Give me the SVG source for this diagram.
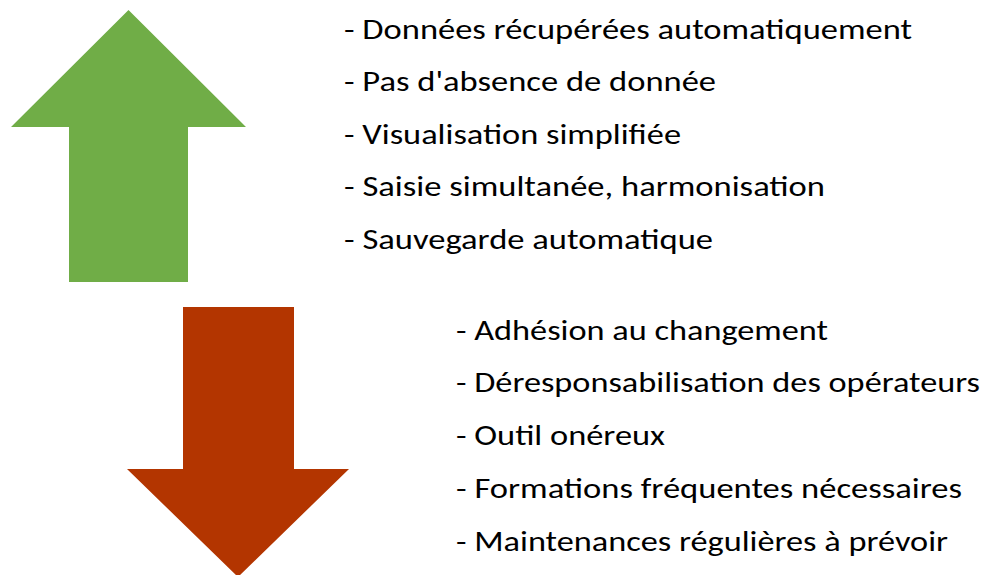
<svg xmlns="http://www.w3.org/2000/svg" width="984" height="575" viewBox="0 0 984 575">
<style>
.t{font-family:Carlito,Lato,"Liberation Sans",sans-serif;font-size:29px;fill:#000}
</style>
<rect width="984" height="575" fill="#fff"/>
<g id="arrow-up">
<polygon points="128.5,10 246,127 188,127 188,282 69,282 69,127 11,127" fill="#70AD47"/>
</g>
<g id="arrow-down">
<polygon points="183,307 294,307 294,469 349,469 238,577 127,469 183,469" fill="#B33500"/>
</g>
<g id="pros">
<text class="t" x="344" y="39" textLength="568" lengthAdjust="spacingAndGlyphs">- Données récupérées automatiquement</text>
<text class="t" x="344" y="91" textLength="372" lengthAdjust="spacingAndGlyphs">- Pas d'absence de donnée</text>
<text class="t" x="344" y="144" textLength="337" lengthAdjust="spacingAndGlyphs">- Visualisation simplifiée</text>
<text class="t" x="344" y="196" textLength="481" lengthAdjust="spacingAndGlyphs">- Saisie simultanée, harmonisation</text>
<text class="t" x="344" y="249" textLength="369" lengthAdjust="spacingAndGlyphs">- Sauvegarde automatique</text>
</g>
<g id="cons">
<text class="t" x="456" y="340" textLength="372" lengthAdjust="spacingAndGlyphs">- Adhésion au changement</text>
<text class="t" x="456" y="392" textLength="524" lengthAdjust="spacingAndGlyphs">- Déresponsabilisation des opérateurs</text>
<text class="t" x="456" y="445" textLength="209" lengthAdjust="spacingAndGlyphs">- Outil onéreux</text>
<text class="t" x="456" y="498" textLength="506" lengthAdjust="spacingAndGlyphs">- Formations fréquentes nécessaires</text>
<text class="t" x="456" y="551" textLength="492" lengthAdjust="spacingAndGlyphs">- Maintenances régulières à prévoir</text>
</g>
</svg>
